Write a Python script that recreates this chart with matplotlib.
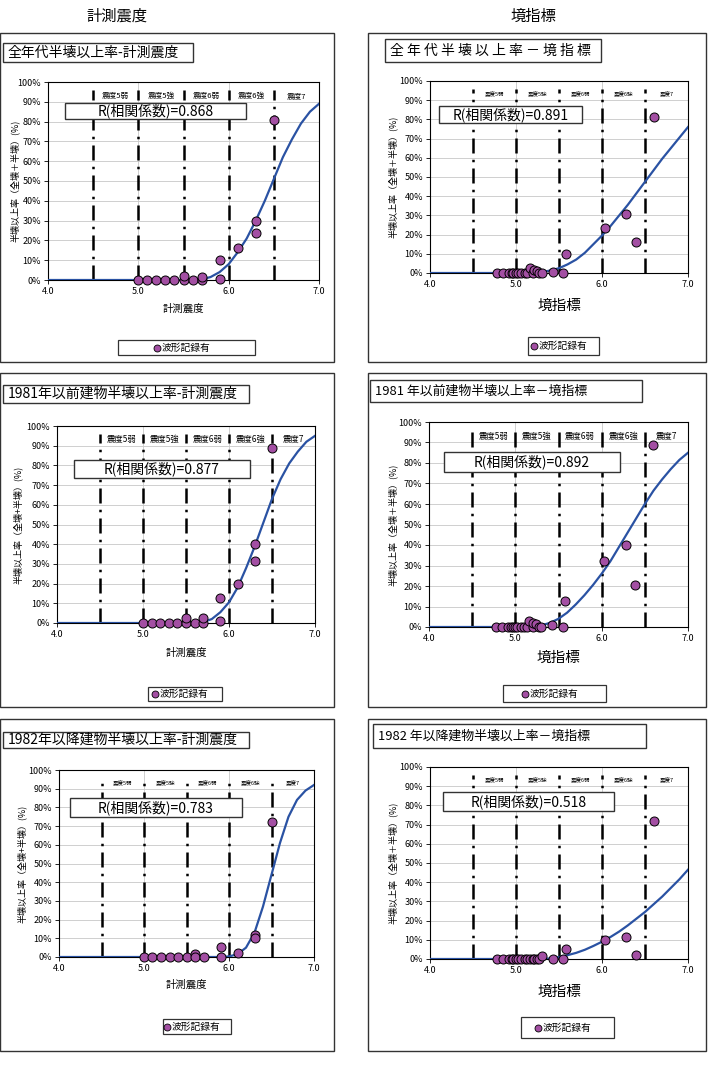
import matplotlib
matplotlib.use("Agg")
import matplotlib.pyplot as plt
from matplotlib.patches import Rectangle
from matplotlib.lines import Line2D

plt.rcParams['font.family'] = ['Noto Sans CJK JP', 'DejaVu Sans']

# ---- data ----
zone_edges = [4.5, 5.0, 5.5, 6.0, 6.5]
zone_centers = [4.75, 5.25, 5.75, 6.25, 6.75]
zone_labels = ['震度5弱', '震度5強', '震度6弱', '震度6強', '震度7']

x_ticks = [4.0, 5.0, 6.0, 7.0]
y_ticks = [0, 10, 20, 30, 40, 50, 60, 70, 80, 90, 100]

# 計測震度 (left column)
keisoku_x = [5.0, 5.1, 5.2, 5.3, 5.4, 5.5, 5.5, 5.6, 5.7, 5.7, 5.9, 5.9, 6.1, 6.3, 6.3, 6.5]
keisoku_y_all = [0, 0, 0, 0, 0, 0, 2.0, 0, 0, 1.7, 10.0, 0.7, 16.0, 30.0, 23.5, 81.0]
keisoku_y_pre81 = [0, 0, 0, 0, 0, 0, 2.5, 0, 0, 2.5, 12.6, 0.8, 20.0, 40.0, 31.7, 89.0]
keisoku_x_post82 = [5.0, 5.1, 5.2, 5.3, 5.4, 5.5, 5.6, 5.6, 5.7, 5.9, 5.9, 6.1, 6.3, 6.3, 6.5]
keisoku_y_post82 = [0, 0, 0, 0, 0, 0, 1.8, 0, 0, 5.4, 0, 2.0, 12.0, 10.0, 72.0]

# 境指標 (right column)
sakai_x = [4.78, 4.85, 4.92, 4.95, 4.97, 5.0, 5.02, 5.06, 5.1, 5.13, 5.16, 5.2, 5.21,
           5.24, 5.27, 5.3, 5.43, 5.55, 5.58, 6.03, 6.28, 6.39, 6.6]
sakai_y_all = [0, 0, 0, 0, 0, 0, 0, 0, 0, 0, 2.5, 0, 1.8, 1.0, 0, 0, 0.5, 0, 10.0, 23.5, 30.5, 16.0, 81.0]
sakai_y_pre81 = [0, 0, 0, 0, 0, 0, 0, 0, 0, 0, 2.7, 0, 2.0, 1.3, 0, 0, 0.8, 0, 12.5, 32.0, 40.0, 20.3, 89.0]
sakai_y_post82 = [0, 0, 0, 0, 0, 0, 0, 0, 0, 0, 0, 0, 0, 0, 0, 1.5, 0, 0, 5.4, 10.0, 11.7, 2.0, 72.0]

# fitted curves
curve_x = [4.0, 5.0, 5.1, 5.2, 5.3, 5.4, 5.5, 5.6, 5.7, 5.8, 5.9, 6.0, 6.1, 6.2, 6.3,
           6.4, 6.5, 6.6, 6.7, 6.8, 6.9, 7.0]
curve_keisoku_all = [0, 0, 0, 0, 0, 0, 0, 0, 0.3, 1.5, 4.0, 8.0, 14.0, 21.0, 30.0,
                     40.0, 51.0, 62.0, 71.0, 79.0, 85.0, 89.0]
curve_keisoku_pre81 = [0, 0, 0, 0, 0, 0, 0, 0, 0.5, 2.0, 5.5, 10.5, 18.0, 28.0, 39.0,
                       51.0, 63.0, 73.0, 81.0, 87.0, 92.0, 95.0]
curve_keisoku_post82 = [0, 0, 0, 0, 0, 0, 0, 0, 0, 0, 0, 0.3, 1.5, 5.0, 13.0,
                        27.0, 44.0, 61.0, 75.0, 84.0, 89.0, 92.0]
curve_sakai_all = [0, 0, 0, 0, 0.5, 1.3, 2.5, 4.5, 7.0, 10.5, 15.0, 19.5, 24.5, 30.0, 35.5,
                   41.5, 47.5, 53.5, 59.5, 65.0, 70.5, 76.0]
curve_sakai_pre81 = [0, 0, 0, 0, 0.8, 2.0, 4.0, 7.0, 11.0, 15.5, 20.5, 26.0, 32.0, 39.0, 46.0,
                     53.0, 60.0, 66.5, 72.0, 77.0, 81.5, 85.0]
curve_sakai_post82 = [0, 0, 0, 0, 0, 0.3, 1.0, 2.0, 3.2, 4.8, 6.8, 9.0, 11.5, 14.3, 17.5,
                      21.0, 24.5, 28.5, 32.5, 37.0, 41.5, 46.5]

W, H = 708, 1071
fig = plt.figure(figsize=(W / 100, H / 100), dpi=100)


def fx(x):
    return x / W


def fy(y):
    return 1 - y / H


def box(x0, y0, x1, y1, lw=1.0, color='#333333', fill=False, z=1):
    fig.add_artist(Rectangle((fx(x0), fy(y1)), fx(x1 - x0), (y1 - y0) / H,
                             transform=fig.transFigure, fill=fill, facecolor='white',
                             edgecolor=color, linewidth=lw, zorder=z))


panels = [
    dict(frame=(0, 33, 334, 362), ax=(48, 82, 319, 280), tbox=(3, 43, 193, 62),
         title='全年代半壊以上率-計測震度', tfs=10,
         rbox=(65, 103, 246, 119), r='0.868',
         xlabel='計測震度', xl_y=309, xl_fs=7.5, ylabel='半壊以上率（全壊＋半壊）(%)', yl_x=15,
         leg=(118, 340, 255, 355), zfs=5.5,
         px=keisoku_x, py=keisoku_y_all, cy=curve_keisoku_all),
    dict(frame=(368, 33, 706, 362), ax=(430, 81, 688, 273), tbox=(385, 39, 601, 62),
         title=' '.join('全年代半壊以上率－境指標'), tfs=10,
         rbox=(439, 106, 582, 123), r='0.891',
         xlabel='境指標', xl_y=306, xl_fs=10.5, ylabel='半壊以上率（全壊＋半壊）(%)', yl_x=393,
         leg=(528, 337, 599, 355), zfs=4,
         px=sakai_x, py=sakai_y_all, cy=curve_sakai_all),
    dict(frame=(0, 373, 334, 707), ax=(57, 426, 315, 623), tbox=(3, 385, 249, 403),
         title='1981年以前建物半壊以上率-計測震度', tfs=10,
         rbox=(74, 460, 250, 478), r='0.877',
         xlabel='計測震度', xl_y=653, xl_fs=7.5, ylabel='半壊以上率（全壊+半壊）(%)', yl_x=18,
         leg=(148, 687, 222, 701), zfs=6,
         px=keisoku_x, py=keisoku_y_pre81, cy=curve_keisoku_pre81),
    dict(frame=(368, 373, 706, 707), ax=(429, 422, 688, 627), tbox=(370, 380, 642, 402),
         title='1981 年以前建物半壊以上率－境指標', tfs=9.3,
         rbox=(444, 452, 620, 472), r='0.892',
         xlabel='境指標', xl_y=658, xl_fs=10.5, ylabel='半壊以上率（全壊＋半壊）(%)', yl_x=393,
         leg=(503, 685, 606, 702), zfs=6,
         px=sakai_x, py=sakai_y_pre81, cy=curve_sakai_pre81),
    dict(frame=(0, 719, 334, 1051), ax=(59, 770, 314, 957), tbox=(3, 732, 249, 748),
         title='1982年以降建物半壊以上率-計測震度', tfs=10,
         rbox=(70, 798, 242, 817), r='0.783',
         xlabel='計測震度', xl_y=985, xl_fs=7.5, ylabel='半壊以上率（全壊+半壊）(%)', yl_x=22,
         leg=(163, 1019, 231, 1034), zfs=4,
         px=keisoku_x_post82, py=keisoku_y_post82, cy=curve_keisoku_post82),
    dict(frame=(368, 719, 706, 1051), ax=(430, 767, 688, 959), tbox=(373, 724, 646, 748),
         title='1982 年以降建物半壊以上率－境指標', tfs=9.3,
         rbox=(443, 792, 614, 811), r='0.518',
         xlabel='境指標', xl_y=992, xl_fs=10.5, ylabel='半壊以上率（全壊＋半壊）(%)', yl_x=393,
         leg=(521, 1017, 614, 1038), zfs=4,
         px=sakai_x, py=sakai_y_post82, cy=curve_sakai_post82),
]

mark_color = '#a34fa3'
line_color = '#2a52a3'

for p in panels:
    box(*p['frame'], lw=1.0)

    x0, y0, x1, y1 = p['ax']
    ax = fig.add_axes([fx(x0), fy(y1), fx(x1 - x0), (y1 - y0) / H])
    ax.set_xlim(4.0, 7.0)
    ax.set_ylim(0, 100)
    ax.set_xticks(x_ticks)
    ax.set_xticklabels([f'{v:.1f}' for v in x_ticks], fontsize=6.5)
    ax.set_yticks(y_ticks)
    ax.set_yticklabels([f'{v}%' for v in y_ticks], fontsize=6.5)
    ax.tick_params(direction='out', length=3, width=0.6, pad=2)
    ax.grid(True, color='#c8c8c8', linewidth=0.6)
    ax.set_axisbelow(True)
    for s in ax.spines.values():
        s.set_linewidth(0.8)

    for e in zone_edges:
        ax.plot([e, e], [0, 96], color='black', linewidth=1.8,
                dashes=(6, 2.5, 1, 2.5), zorder=2)
    for c, lab in zip(zone_centers, zone_labels):
        ax.text(c, 93, lab, fontsize=p['zfs'], ha='center', va='center', zorder=3)

    ax.plot(curve_x, p['cy'], color=line_color, linewidth=1.6, zorder=4)
    ax.plot(p['px'], p['py'], linestyle='none', marker='o', markersize=6.5,
            markerfacecolor=mark_color, markeredgecolor='black', markeredgewidth=0.7,
            zorder=5, clip_on=False)

    # title box
    tx0, ty0, tx1, ty1 = p['tbox']
    box(tx0, ty0, tx1, ty1, fill=True)
    fig.text(fx(tx0 + 5), fy((ty0 + ty1) / 2), p['title'], fontsize=p['tfs'],
             ha='left', va='center')

    # R box
    rx0, ry0, rx1, ry1 = p['rbox']
    box(rx0, ry0, rx1, ry1, fill=True, z=6)
    fig.text(fx((rx0 + rx1) / 2), fy((ry0 + ry1) / 2), 'R(相関係数)=' + p['r'],
             fontsize=10, ha='center', va='center', zorder=7)

    # axis labels
    fig.text(fx((x0 + x1) / 2), fy(p['xl_y']), p['xlabel'], fontsize=p['xl_fs'],
             ha='center', va='center')
    fig.text(fx(p['yl_x']), fy((y0 + y1) / 2), p['ylabel'], fontsize=6.5,
             rotation=90, ha='center', va='center')

    # legend box
    lx0, ly0, lx1, ly1 = p['leg']
    box(lx0, ly0, lx1, ly1, lw=0.9, fill=True)
    cx = (lx0 + lx1) / 2
    cy = (ly0 + ly1) / 2
    fig.add_artist(Line2D([fx(cx - 30)], [fy(cy)], transform=fig.transFigure,
                          marker='o', markersize=5, markerfacecolor=mark_color,
                          markeredgecolor='black', markeredgewidth=0.6, linestyle='none'))
    fig.text(fx(cx - 25), fy(cy), '波形記録有', fontsize=7, ha='left', va='center')

# column headers
fig.text(fx(117), fy(16), '計測震度', fontsize=11, ha='center', va='center')
fig.text(fx(533), fy(16), '境指標', fontsize=11, ha='center', va='center')

fig.savefig('out.png', dpi=100)
